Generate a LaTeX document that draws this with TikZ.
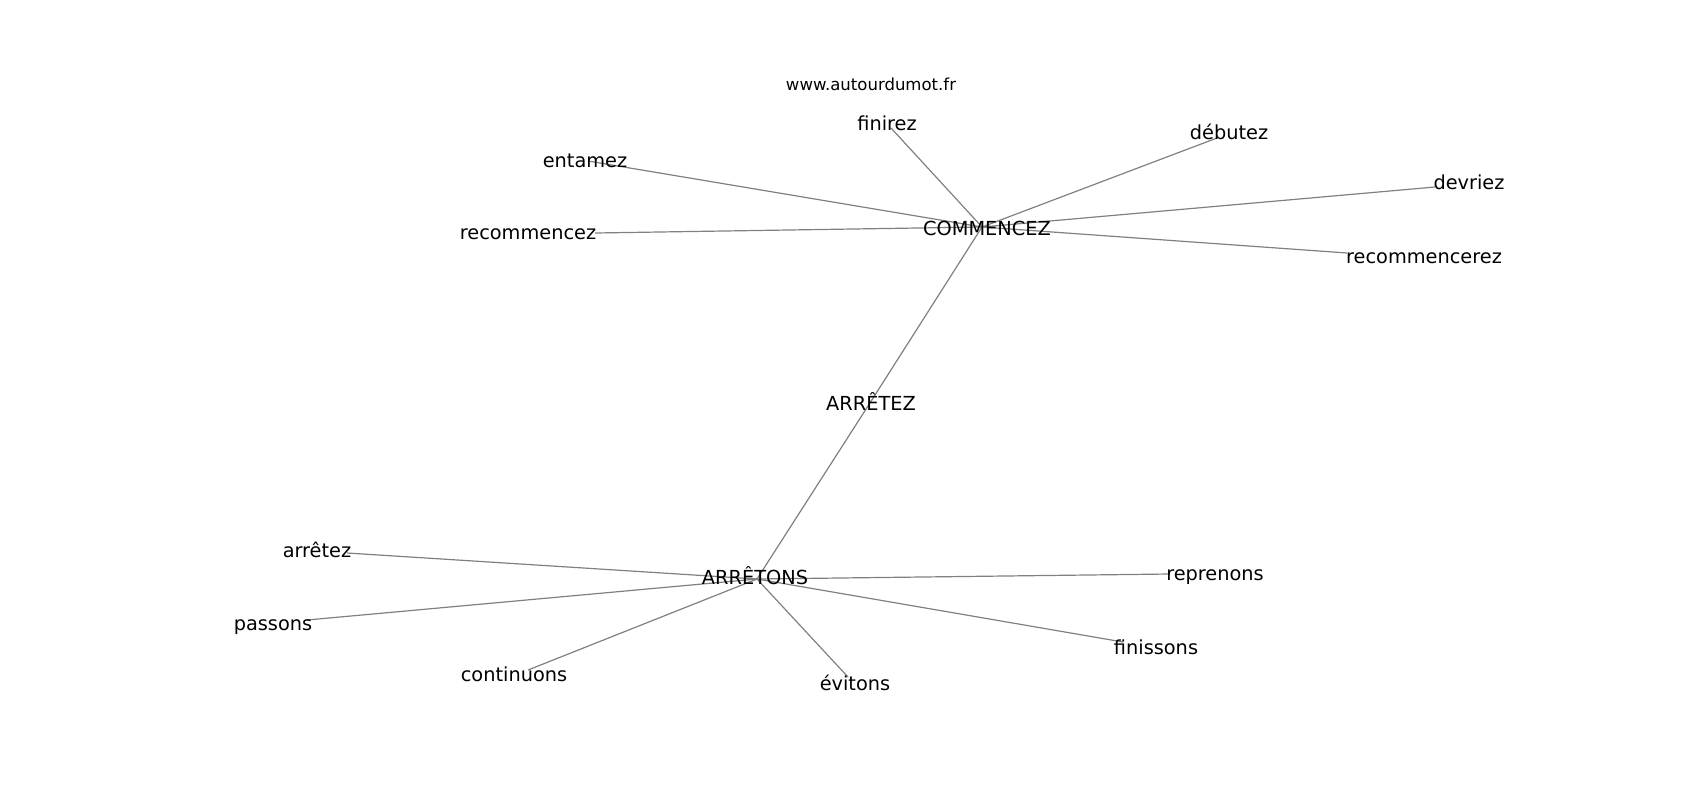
\documentclass[tikz,border=0pt]{standalone}
\usepackage{fontspec}
\setmainfont{DejaVu Sans}

\tikzset{
  word/.style={inner sep=0pt, text height=0.73em, text depth=0pt, font=\fontsize{14.5}{17}\selectfont},
  site/.style={inner sep=0pt, text height=0.73em, text depth=0pt, font=\fontsize{12.4}{14}\selectfont},
  edge/.style={draw={rgb, 255:red, 128; green, 128; blue, 128}, line width=0.9pt}
}

\begin{document}
\begin{tikzpicture}[x=0.75pt,y=0.75pt,yscale=-1,xscale=1]
\useasboundingbox (0,0) rectangle (1700,800);

% Graph points
\coordinate (p-commencez) at (982,227);
\coordinate (p-arretons) at (757,579);
\coordinate (p-arretez) at (868,406);
\coordinate (p-finirez) at (891,128);
\coordinate (p-entamez) at (588,161);
\coordinate (p-recommencez) at (595,233);
\coordinate (p-debutez) at (1217,138);
\coordinate (p-devriez) at (1435,187);
\coordinate (p-recommencerez) at (1347,253);
\coordinate (p-arretez2) at (347,553);
\coordinate (p-passons) at (307,620);
\coordinate (p-continuons) at (528,670);
\coordinate (p-reprenons) at (1170,574);
\coordinate (p-finissons) at (1123,642);
\coordinate (p-evitons) at (848,677);

%Straight Lines
\foreach \leaf in {finirez,entamez,recommencez,debutez,devriez,recommencerez,arretez}
  \draw [edge] (p-commencez) -- (p-\leaf);
\foreach \leaf in {arretez,arretez2,passons,continuons,reprenons,finissons,evitons}
  \draw [edge] (p-arretons) -- (p-\leaf);

% Text Node
\node [site] (site) at (871,86) {www.autourdumot.fr};
% Text Node
\node [word] (commencez) at (987,231) {COMMENCEZ};
\node [word] (arretons) at (755,580) {ARRÊTONS};
\node [word] (arretez) at (871,406) {ARRÊTEZ};
% Text Node
\node [word] (finirez) at (887,126) {finirez};
\node [word] (entamez) at (585,163) {entamez};
\node [word] (recommencez) at (528,235) {recommencez};
\node [word] (debutez) at (1229,135) {débutez};
\node [word] (devriez) at (1469,185) {devriez};
\node [word] (recommencerez) at (1424,259) {recommencerez};
% Text Node
\node [word] (arretez2) at (317,553) {arrêtez};
\node [word] (passons) at (273,626) {passons};
\node [word] (continuons) at (514,677) {continuons};
\node [word] (reprenons) at (1215,576) {reprenons};
\node [word] (finissons) at (1156,650) {finissons};
\node [word] (evitons) at (855,686) {évitons};

\end{tikzpicture}
\end{document}
